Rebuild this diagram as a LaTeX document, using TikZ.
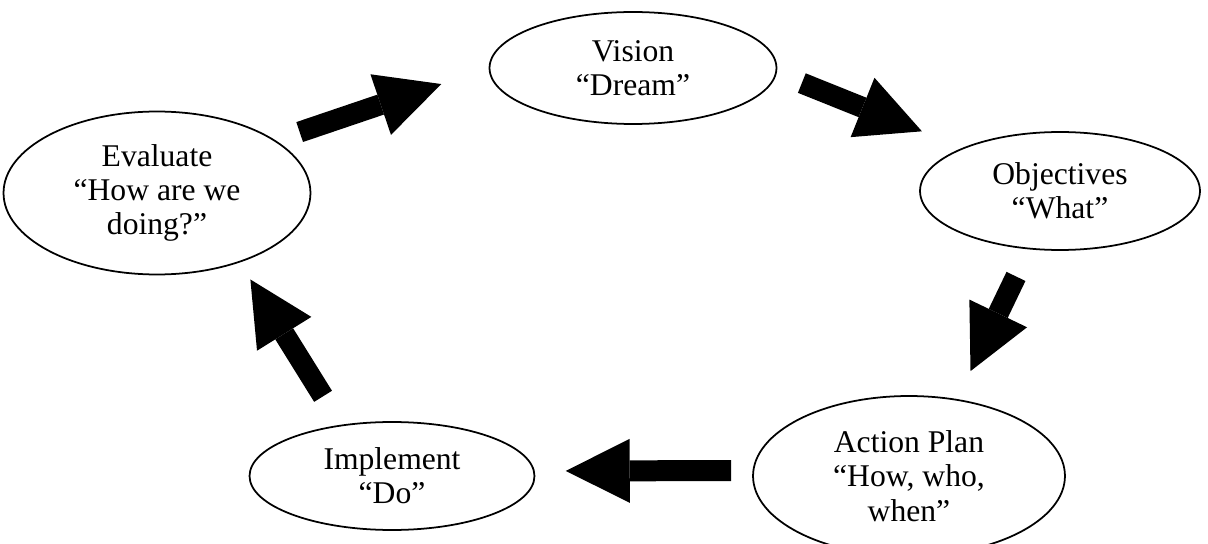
\documentclass[tikz,border=0pt]{standalone}
\usepackage{fontspec}
\setmainfont{Liberation Serif}
\usetikzlibrary{shapes.geometric,arrows.meta}
\tikzset{
  ovalbox/.style={draw, ellipse, line width=1pt, inner sep=0pt, align=center, font=\fontsize{18}{19.5}\selectfont},
  blockarrow/.style={-{Triangle[length=1.28cm,width=1.28cm,line width=0pt]}, line width=0.42cm},
}
\begin{document}
\begin{tikzpicture}[x=0.02cm, y=-0.02cm]
  \useasboundingbox (0,0) rectangle (1208,544);

  % Stages of the cycle
  \node[ovalbox, minimum width=5.74cm, minimum height=2.24cm] (vision) at (633,68) {Vision\\“Dream”};
  \node[ovalbox, minimum width=5.6cm, minimum height=2.36cm] (obj) at (1060,191) {Objectives\\“What”};
  \node[ovalbox, minimum width=6.24cm, minimum height=3.2cm] (act) at (909,476) {Action Plan\\“How, who,\\when”};
  \node[ovalbox, minimum width=5.7cm, minimum height=2.16cm] (imp) at (392,476) {Implement\\“Do”};
  \node[ovalbox, minimum width=6.14cm, minimum height=3.26cm] (eval) at (157,193) {Evaluate\\“How are we\\doing?”};

  % Arrows round the cycle
  \draw[blockarrow, shorten <=0.51cm, shorten >=1.0cm] (eval.24) -- (vision.180);
  \draw[blockarrow, shorten <=0.54cm, shorten >=0.88cm] (vision.-2) -- (obj.156);
  \draw[blockarrow, shorten <=0.6cm, shorten >=0.62cm] (obj.-118) -- (act.58);
  \draw[blockarrow, shorten <=0.43cm, shorten >=0.62cm] (act.178) -- (imp.2);
  \draw[blockarrow, shorten <=0.67cm, shorten >=0.4cm] (imp.135.5) -- (eval.-40);
\end{tikzpicture}
\end{document}
